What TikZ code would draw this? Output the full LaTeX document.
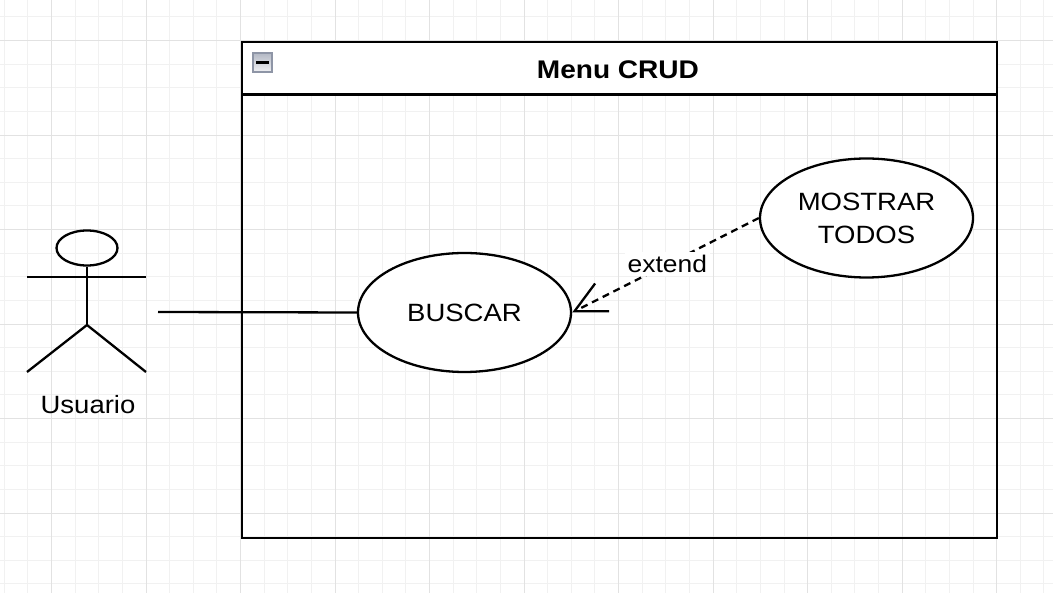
\documentclass[tikz,border=0pt]{standalone}
\usepackage{fontspec}
\setmainfont{Liberation Sans}
\newfontfamily\widesans[FakeStretch=1.1]{Liberation Sans}
\usetikzlibrary{arrows.meta,shapes.geometric}
\definecolor{gridminor}{HTML}{F1F1F1}
\definecolor{gridmajor}{HTML}{E2E2E2}
\definecolor{iconborder}{HTML}{8E95A6}
\definecolor{icontop}{HTML}{B3B8C4}
\definecolor{iconbot}{HTML}{F0F1F4}
\tikzset{
  ln/.style={line width=2.3pt, draw=black},
  usecase/.style={ellipse, ln, fill=white, inner sep=0pt, align=center,
    minimum width=213pt, minimum height=119pt,
    font=\widesans\fontsize{25}{33}\selectfont},
  lbl/.style={font=\widesans\fontsize{25}{30}\selectfont, inner sep=0pt},
  extendarrow/.style={ln, dash pattern=on 7pt off 5pt,
    -{Straight Barb[length=31pt, width=31pt, line width=2.3pt]}},
}
\begin{document}
\begin{tikzpicture}[x=1pt, y=-1pt]
\useasboundingbox (0,0) rectangle (1053,593);
\fill[white] (0,0) rectangle (1053,593);
% grid
\foreach \i in {0,...,44} { \draw[gridminor, line width=1pt] ({4.24+\i*23.63},0) -- ({4.24+\i*23.63},593); }
\foreach \i in {0,...,25} { \draw[gridminor, line width=1pt] (0,{16.87+\i*23.63}) -- (1053,{16.87+\i*23.63}); }
\foreach \i in {0,...,11} { \draw[gridmajor, line width=1pt] ({51.5+\i*94.52},0) -- ({51.5+\i*94.52},593); }
\foreach \i in {0,...,6} { \draw[gridmajor, line width=1pt] (0,{40.5+\i*94.52}) -- (1053,{40.5+\i*94.52}); }

% frame
\fill[white] (241,41) rectangle (996,94.5);
\node[ln, rectangle, minimum width=755pt, minimum height=496pt, inner sep=0pt, anchor=north west] (frame) at (241,41) {};
\draw[ln] (241,94.5) -- (996,94.5);
\node[font=\widesans\fontsize{25.5}{30}\selectfont\bfseries, inner sep=0pt, anchor=base] (title) at (618,78.5) {Menu CRUD};
% collapse icon
\node[rectangle, draw=iconborder, line width=1.6pt, top color=icontop, bottom color=iconbot, minimum width=19pt, minimum height=19pt, inner sep=0pt] (icon) at (262.5,62.5) {};
\draw[line width=2.3pt, black] ([xshift=-6.3pt]icon.center) -- ([xshift=6.3pt]icon.center);

% actor
\node[ellipse, ln, minimum width=61pt, minimum height=35pt, inner sep=0pt] (head) at (87,248) {};
\coordinate (hip) at (87,325);
\coordinate (armL) at (27,277);
\coordinate (armR) at (146,277);
\coordinate (footL) at (27,372);
\coordinate (footR) at (146,372);
\draw[ln] (head.south) -- (hip);
\draw[ln] (armL) -- (armR);
\draw[ln] (footL) -- (hip) -- (footR);
\node[lbl, anchor=base] (usuario) at (88,414) {Usuario};

% use cases
\node[usecase] (buscar) at (464.5,312.5) {BUSCAR};
\node[usecase] (mostrar) at (866.5,218) {MOSTRAR\\TODOS};

% connectors
\coordinate (actorend) at (158,312);
\draw[ln] (actorend) -- (buscar.west);
\draw[extendarrow] (mostrar.west) -- (buscar.east)
  node[pos=0.49, fill=white, inner sep=3pt, font=\widesans\fontsize{24}{29}\selectfont] (ext) {extend};
\end{tikzpicture}
\end{document}
